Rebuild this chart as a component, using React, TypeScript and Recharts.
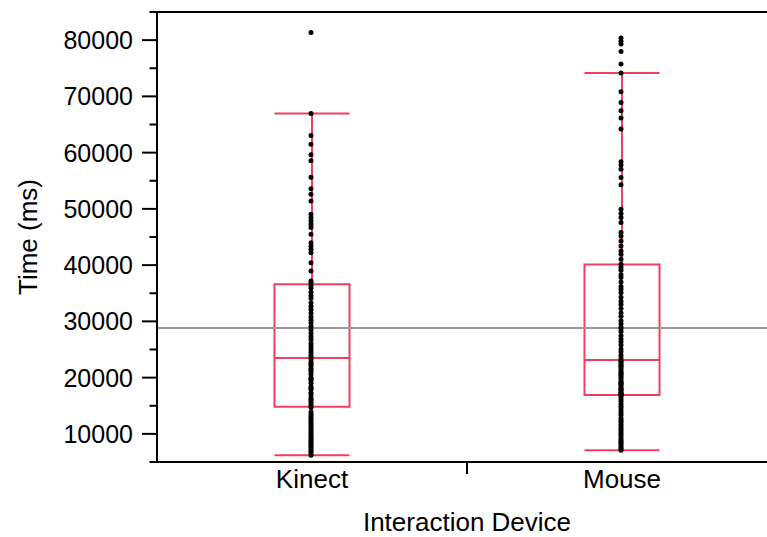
import { ComposedChart, Scatter, XAxis, YAxis, ReferenceLine, ReferenceArea } from 'recharts';

const CATEGORIES = ['Kinect', 'Mouse'];

const KINECT_TIMES = [
  81350, 66940, 63040, 61510, 59610, 58540, 55640, 53560, 52610, 51420, 49050, 48450, 47860,
  47270, 46670, 45490, 44000, 43410, 42820, 42220, 40440, 38960, 37180, 36900,
  36400, 35900, 35200, 34600, 34100, 33300, 32700, 32100, 31500, 30800, 30200, 29700, 29100,
  28500, 27900, 27300, 26800, 26100, 25600, 25000, 24500, 24000, 23700,
  23300, 22800, 22500, 22200, 21700, 21400, 21100, 20600, 20000, 19800, 19500, 19000, 18400,
  18100, 17900, 17300, 16900, 16400, 16100, 15900, 15500, 15100, 14700,
  13900, 13500, 13100, 12700, 12400, 12000, 11700, 11300, 11000, 10600, 10300, 9900, 9600,
  9300, 9000, 8700, 8400, 8100, 7800, 7500, 7200, 6900, 6600, 6210,
];

const MOUSE_TIMES = [
  80380, 79780, 79310, 78000, 75750, 74150, 70820, 68920, 67440, 66140, 64180, 58360, 57780,
  57060, 55570, 54270, 49940, 49160, 48450, 47560, 45780, 45190, 44300, 43410, 42520, 41930,
  41040, 40150,
  39600, 39100, 38300, 37800, 37000, 36200, 35700, 35100, 34300, 33600, 33000, 32300, 31500,
  30900, 30100, 29600, 29000, 28700, 28200, 27500, 26900, 26400, 25800, 25100, 24600, 24000, 23500,
  23000, 22900, 22600, 22300, 22100, 21900, 21600, 21200, 20900, 20700, 20500, 20200, 19900,
  19500, 19200, 19000, 18900, 18600, 18300, 18000, 17900, 17700, 17400, 17200, 17100, 16950, 16900,
  16600, 16200, 15800, 15300, 14900, 14600, 14100, 13700, 13300, 12800, 12400, 12100, 11700,
  11300, 10900, 10600, 10200, 9900, 9500, 9100, 8800, 8500, 8200, 7900, 7600, 7300, 7100,
];

// box stats per category (Kinect, Mouse)
const BOX_Q1 = [14810, 16890];
const BOX_MEDIAN = [23470, 23120];
const BOX_Q3 = [36590, 40100];
const WHISKER_LOW = [6210, 7100];
const WHISKER_HIGH = [66940, 74150];
const GRAND_MEAN = 28810;

const Y_TICKS = [5000, 10000, 15000, 20000, 25000, 30000, 35000, 40000, 45000, 50000, 55000, 60000, 65000, 70000, 75000, 80000, 85000];
const X_TICKS = [1, 1.5, 2];

const RED = '#F0405E';
const FONT = '"Liberation Sans", Arial, Helvetica, sans-serif';
const BOX_HALF = 0.121;

const kinectPoints = KINECT_TIMES.map((y) => ({ x: 1, y }));
const mousePoints = MOUSE_TIMES.map((y) => ({ x: 2, y }));

function YTick({ x, y, payload }: any) {
  const major = payload.value % 10000 === 0;
  const len = major ? 15 : 7.5;
  return (
    <g>
      <line x1={x - len} y1={y} x2={x} y2={y} stroke="#000" strokeWidth={2} />
      {major && (
        <text x={x - 24} y={y} dy="0.36em" textAnchor="end" fontSize={25} fontFamily={FONT} fill="#000">
          {payload.value}
        </text>
      )}
    </g>
  );
}

function XTick({ x, y, payload }: any) {
  const v = payload.value;
  if (v === 1.5) {
    return <line x1={x} y1={y} x2={x} y2={y + 12} stroke="#000" strokeWidth={2} />;
  }
  return (
    <text x={x} y={y + 26} textAnchor="middle" fontSize={26} fontFamily={FONT} fill="#000">
      {CATEGORIES[v - 1]}
    </text>
  );
}

function YTitle({ viewBox }: any) {
  const cx = 37;
  const cy = viewBox.y + viewBox.height / 2;
  return (
    <text x={cx} y={cy} transform={`rotate(-90 ${cx} ${cy})`} textAnchor="middle" fontSize={26} fontFamily={FONT} fill="#000">
      Time (ms)
    </text>
  );
}

function XTitle({ viewBox }: any) {
  const cx = viewBox.x + viewBox.width / 2;
  return (
    <text x={cx} y={531} textAnchor="middle" fontSize={26} fontFamily={FONT} fill="#000">
      Interaction Device
    </text>
  );
}

function Dot({ cx, cy }: any) {
  return <circle cx={cx - 1} cy={cy} r={2.5} fill="#000" />;
}

export default function App() {
  return (
    <div style={{ position: 'absolute', left: 0, top: 0, width: 767, height: 537, overflow: 'hidden', background: '#fff' }}>
      <ComposedChart width={777} height={537} margin={{ top: 12, right: 0, bottom: 0, left: 0 }}>
        <XAxis
          type="number"
          dataKey="x"
          domain={[0.5, 2.5]}
          ticks={X_TICKS}
          height={75}
          tickLine={false}
          tickSize={0}
          tickMargin={0}
          tick={<XTick />}
          axisLine={{ stroke: '#000', strokeWidth: 2 }}
          allowDataOverflow
          label={<XTitle />}
        />
        <YAxis
          type="number"
          dataKey="y"
          domain={[5000, 85000]}
          ticks={Y_TICKS}
          width={157}
          tickLine={false}
          tickSize={0}
          tickMargin={0}
          tick={<YTick />}
          interval={0}
          axisLine={{ stroke: '#000', strokeWidth: 2 }}
          allowDataOverflow
          label={<YTitle />}
        />
        <ReferenceLine y={85000} stroke="#000" strokeWidth={2} />
        <ReferenceLine y={GRAND_MEAN} stroke="#999" strokeWidth={2} />
        {CATEGORIES.map((c, i) => {
          const cx = i + 1;
          return [
            <ReferenceArea key={c + 'box'} x1={cx - BOX_HALF} x2={cx + BOX_HALF} y1={BOX_Q1[i]} y2={BOX_Q3[i]} fill="none" fillOpacity={0} stroke={RED} strokeWidth={2} strokeOpacity={1} />,
            <ReferenceLine key={c + 'med'} segment={[{ x: cx - BOX_HALF, y: BOX_MEDIAN[i] }, { x: cx + BOX_HALF, y: BOX_MEDIAN[i] }]} stroke={RED} strokeWidth={2} />,
            <ReferenceLine key={c + 'wu'} segment={[{ x: cx, y: BOX_Q3[i] }, { x: cx, y: WHISKER_HIGH[i] }]} stroke={RED} strokeWidth={2} />,
            <ReferenceLine key={c + 'wl'} segment={[{ x: cx, y: BOX_Q1[i] }, { x: cx, y: WHISKER_LOW[i] }]} stroke={RED} strokeWidth={2} />,
            <ReferenceLine key={c + 'cu'} segment={[{ x: cx - BOX_HALF, y: WHISKER_HIGH[i] }, { x: cx + BOX_HALF, y: WHISKER_HIGH[i] }]} stroke={RED} strokeWidth={2} />,
            <ReferenceLine key={c + 'cl'} segment={[{ x: cx - BOX_HALF, y: WHISKER_LOW[i] }, { x: cx + BOX_HALF, y: WHISKER_LOW[i] }]} stroke={RED} strokeWidth={2} />,
          ];
        })}
        <Scatter data={kinectPoints} shape={<Dot />} isAnimationActive={false} />
        <Scatter data={mousePoints} shape={<Dot />} isAnimationActive={false} />
      </ComposedChart>
    </div>
  );
}
